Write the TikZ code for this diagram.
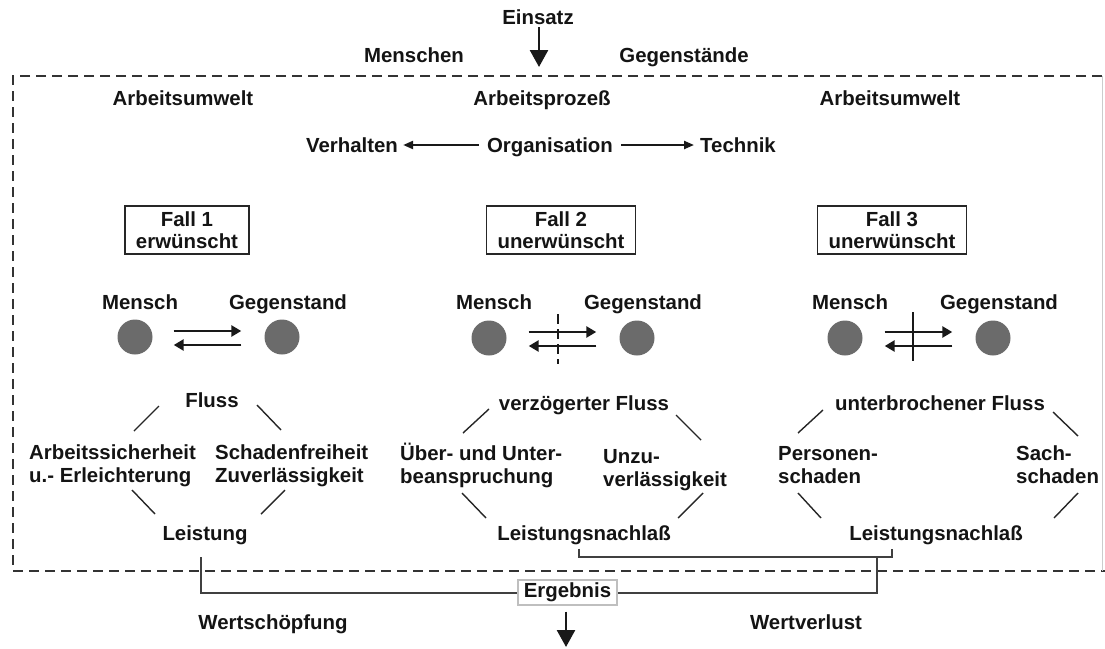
\documentclass[tikz,border=0pt]{standalone}
\usepackage{fontspec}
\setmainfont{Liberation Sans}
\usetikzlibrary{arrows.meta}
\begin{document}
\begin{tikzpicture}[x=1pt,y=-1pt,
  lbl/.style={font=\bfseries\fontsize{20.4}{23}\selectfont, inner sep=0pt, text=black!92, anchor=base},
  ml/.style={lbl, align=left, anchor=base west},
  fallbox/.style={font=\bfseries\fontsize{20.4}{22}\selectfont, text=black!92, draw=black!85, line width=1.8pt, align=center, inner xsep=11pt, inner ysep=5.5pt},
  dot/.style={circle, fill=black!58, minimum size=35pt, inner sep=0pt},
  slash/.style={line width=1.4pt, black!85},
  flow/.style={line width=2.9pt, black!90, -{Triangle[length=10pt,width=11pt]}},
  orgarrow/.style={line width=2.2pt, black!90, -{Triangle[length=10pt,width=8pt]}},
  bigarrow/.style={line width=2.6pt, black!90, -{Triangle[length=17pt,width=18pt]}},
  conn/.style={line width=2pt, black!75},
  dashbox/.style={line width=1.8pt, black!80, dash pattern=on 10pt off 6pt},
]
\useasboundingbox (0,0) rectangle (1105,648);

% top
\node[lbl] (einsatz) at (538,24) {Einsatz};
\coordinate (einsatzEnd) at (539,67);
\draw[bigarrow, shorten <=3pt] (einsatz.south -| einsatzEnd) -- (einsatzEnd);
\node[lbl] (menschen) at (414,62) {Menschen};
\node[lbl] (gegenst) at (684,62) {Gegenstände};

% dashed frame
\coordinate (frTR) at (1102,76);
\coordinate (frBL) at (13,571);
\coordinate (frBR) at (1105,571);
\draw[dashbox] (frTR) -| (frBL) -- (frBR);
\draw[line width=1pt, black!20] (frTR) -- (1102,571);

\node[lbl] (auL) at (183,105) {Arbeitsumwelt};
\node[lbl] (ap) at (542,105) {Arbeitsprozeß};
\node[lbl] (auR) at (890,105) {Arbeitsumwelt};

\node[lbl] (verh) at (352,152) {Verhalten};
\node[lbl] (org) at (550,152) {Organisation};
\node[lbl] (tech) at (738,152) {Technik};
\draw[orgarrow, shorten <=8pt, shorten >=5pt] ([yshift=7pt]org.base west) -- ([yshift=7pt]verh.base east);
\draw[orgarrow, shorten <=8pt, shorten >=6pt] ([yshift=7pt]org.base east) -- ([yshift=7pt]tech.base west);

% Fall boxes
\node[fallbox] (f1) at (187,230) {Fall 1\\erwünscht};
\node[fallbox] (f2) at (561,230) {Fall 2\\unerwünscht};
\node[fallbox] (f3) at (892,230) {Fall 3\\unerwünscht};

% case 1
\node[lbl] (m1) at (140,309) {Mensch};
\node[lbl] (g1) at (288,309) {Gegenstand};
\node[dot] (d1a) at (135,337) {};
\node[dot] (d1b) at (282,337) {};
\draw[flow, shorten <=21pt, shorten >=23pt] ([yshift=6pt]d1a.east) -- ([yshift=6pt]d1b.west);
\draw[flow, shorten <=23pt, shorten >=21pt] ([yshift=-8pt]d1b.west) -- ([yshift=-8pt]d1a.east);

% case 2
\node[lbl] (m2) at (494,309) {Mensch};
\node[lbl] (g2) at (643,309) {Gegenstand};
\node[dot] (d2a) at (489,338) {};
\node[dot] (d2b) at (637,338) {};
\draw[flow, shorten <=22pt, shorten >=23pt] ([yshift=6pt]d2a.east) -- ([yshift=6pt]d2b.west);
\draw[flow, shorten <=23pt, shorten >=22pt] ([yshift=-8pt]d2b.west) -- ([yshift=-8pt]d2a.east);
\coordinate (cut2a) at (558,314);
\coordinate (cut2b) at (558,364);
\draw[line width=2.6pt, black!90, dash pattern=on 10pt off 5pt] (cut2a) -- (cut2b);

% case 3
\node[lbl] (m3) at (850,309) {Mensch};
\node[lbl] (g3) at (999,309) {Gegenstand};
\node[dot] (d3a) at (845,338) {};
\node[dot] (d3b) at (993,338) {};
\draw[flow, shorten <=22pt, shorten >=23pt] ([yshift=6pt]d3a.east) -- ([yshift=6pt]d3b.west);
\draw[flow, shorten <=23pt, shorten >=22pt] ([yshift=-8pt]d3b.west) -- ([yshift=-8pt]d3a.east);
\coordinate (cut3a) at (913,312);
\coordinate (cut3b) at (913,361);
\draw[line width=2.6pt, black!90] (cut3a) -- (cut3b);

% lower part case 1
\node[lbl] (fl1) at (212,407) {Fluss};
\node[ml] (as) at (29,482) {Arbeitssicherheit\\u.- Erleichterung};
\node[ml] (sf) at (215,482) {Schadenfreiheit\\Zuverlässigkeit};
\node[lbl] (leist) at (205,540) {Leistung};
\draw[slash] (159,406) -- (134,431);
\draw[slash] (257,405) -- (281,430);
\draw[slash] (132,490) -- (155,514);
\draw[slash] (285,490) -- (261,514);

% lower part case 2
\node[lbl] (fl2) at (584,410) {verzögerter Fluss};
\node[ml] (ub) at (400,483) {Über- und Unter-\\beanspruchung};
\node[ml] (uz) at (603,486) {Unzu-\\verlässigkeit};
\node[lbl] (ln2) at (584,540) {Leistungsnachlaß};
\draw[slash] (489,409) -- (463,433);
\draw[slash] (676,415) -- (701,440);
\draw[slash] (462,493) -- (486,518);
\draw[slash] (703,493) -- (678,518);

% lower part case 3
\node[lbl] (fl3) at (940,410) {unterbrochener Fluss};
\node[ml] (ps) at (778,483) {Personen-\\schaden};
\node[ml] (ss) at (1016,483) {Sach-\\schaden};
\node[lbl] (ln3) at (936,540) {Leistungsnachlaß};
\draw[slash] (823,410) -- (798,433);
\draw[slash] (1053,412) -- (1078,436);
\draw[slash] (798,493) -- (821,518);
\draw[slash] (1078,493) -- (1054,518);

% result
\node[draw=black!25, line width=1.2pt, fill=white, minimum width=99pt, minimum height=25pt, inner sep=0pt,
      font=\bfseries\fontsize{20.4}{23}\selectfont, text=black!92] (erg) at (567.5,592.5) {Ergebnis};
\coordinate (brL) at (579,557);
\coordinate (brR) at (892,557);
\coordinate (brD) at (877,557);
\coordinate (lsTop) at (201,557);
\draw[conn] ([yshift=-4pt]ln2.south -| brL) -- (brL) -- (brR) -- ([yshift=-4pt]ln3.south -| brR);
\draw[conn] (brD) |- (erg.east);
\draw[conn] (lsTop) |- (erg.west);
\coordinate (ergEnd) at (566,647);
\draw[bigarrow, shorten <=6pt] (erg.south -| ergEnd) -- (ergEnd);

\node[lbl] (ws) at (273,629) {Wertschöpfung};
\node[lbl] (wv) at (806,629) {Wertverlust};
\end{tikzpicture}
\end{document}
